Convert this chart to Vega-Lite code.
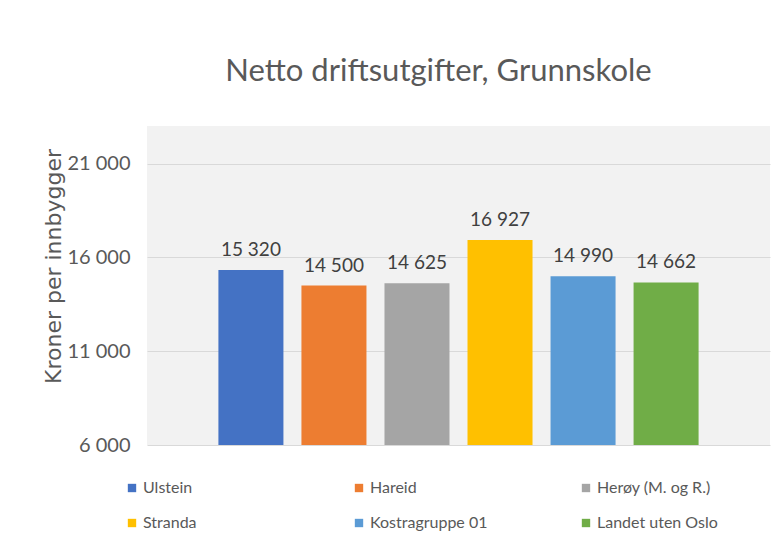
{
  "$schema": "https://vega.github.io/schema/vega-lite/v6.json",
  "autosize": {"type": "none"},
  "padding": {"left": 147, "top": 126, "right": 13, "bottom": 103},
  "width": 623,
  "height": 319,
  "background": "white",
  "config": {
    "locale": {"number": {"decimal": ",", "thousands": " ", "grouping": [3], "currency": ["", " kr"]}},
    "view": {"fill": "#f2f2f2", "stroke": null},
    "font": "Lato, sans-serif"
  },
  "title": {
    "text": "Netto driftsutgifter, Grunnskole",
    "anchor": "middle",
    "frame": "group",
    "offset": 38,
    "dx": -20,
    "fontSize": 31,
    "fontWeight": "normal",
    "color": "#595959",
    "font": "Lato, sans-serif"
  },
  "data": {
    "values": [
      {"kommune": "Ulstein", "verdi": 15320},
      {"kommune": "Hareid", "verdi": 14500},
      {"kommune": "Herøy (M. og R.)", "verdi": 14625},
      {"kommune": "Stranda", "verdi": 16927},
      {"kommune": "Kostragruppe 01", "verdi": 14990},
      {"kommune": "Landet uten Oslo", "verdi": 14662}
    ]
  },
  "encoding": {
    "x": {
      "field": "kommune",
      "type": "nominal",
      "sort": null,
      "axis": null,
      "scale": {"paddingInner": 0.217, "paddingOuter": 0.86}
    },
    "y": {
      "field": "verdi",
      "type": "quantitative",
      "scale": {"domain": [6000, 23000], "nice": false, "zero": false},
      "axis": {
        "values": [6000, 11000, 16000, 21000],
        "format": ",d",
        "title": "Kroner per innbygger",
        "titleFont": "DejaVu Sans",
        "titleFontSize": 22,
        "titleFontWeight": "normal",
        "titleColor": "#595959",
        "titleX": -94,
        "titleY": 140,
        "titleAngle": -90,
        "titleAlign": "center",
        "titleBaseline": "middle",
        "ticks": false,
        "domain": false,
        "labelPadding": 17,
        "labelFontSize": 20,
        "labelColor": "#595959",
        "gridColor": "#d9d9d9",
        "gridWidth": 1.2
      }
    }
  },
  "layer": [
    {
      "mark": {"type": "bar", "clip": true},
      "encoding": {
        "color": {
          "field": "kommune",
          "type": "nominal",
          "sort": null,
          "scale": {
            "domain": ["Ulstein", "Hareid", "Herøy (M. og R.)", "Stranda", "Kostragruppe 01", "Landet uten Oslo"],
            "range": ["#4472C4", "#ED7D31", "#A5A5A5", "#FFC000", "#5B9BD5", "#70AD47"]
          },
          "legend": {
            "title": null,
            "orient": "none",
            "legendX": -23,
            "legendY": 354,
            "direction": "horizontal",
            "columns": 3,
            "gridAlign": "all",
            "columnPadding": 87,
            "rowPadding": 19,
            "padding": 0,
            "symbolType": "square",
            "symbolSize": 70,
            "symbolStrokeWidth": 0,
            "labelOffset": 3,
            "labelFontSize": 16,
            "labelColor": "#595959",
            "labelLimit": 200
          }
        }
      }
    },
    {
      "mark": {"type": "text", "baseline": "alphabetic", "dy": -14, "fontSize": 19, "color": "#404040"},
      "encoding": {
        "text": {"field": "verdi", "type": "quantitative", "format": ",d"}
      }
    }
  ]
}
